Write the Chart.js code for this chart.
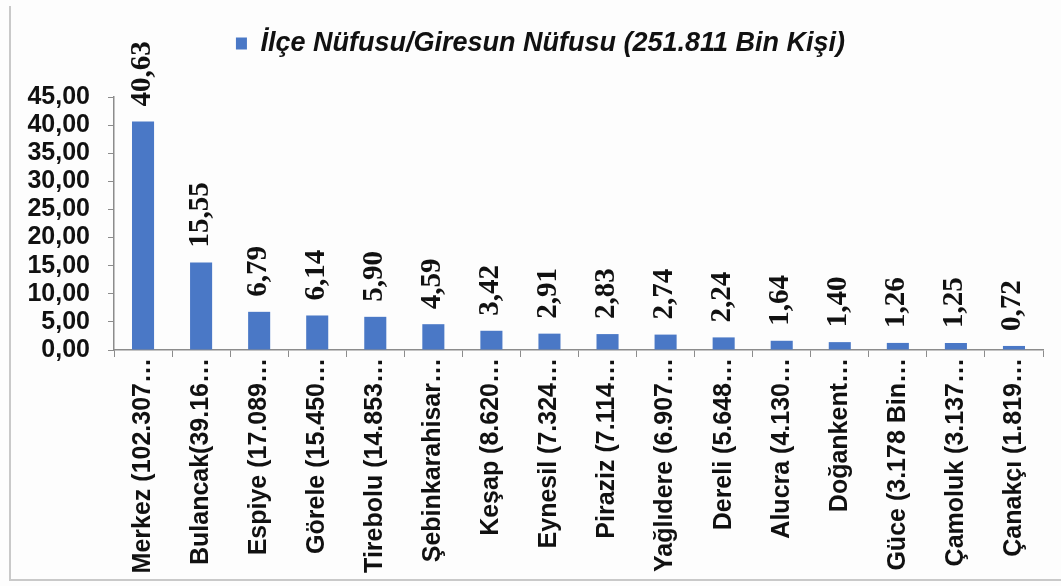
<!DOCTYPE html>
<html lang="tr">
<head>
<meta charset="utf-8">
<script src="https://cdn.jsdelivr.net/npm/chart.js@4.4.1/dist/chart.umd.min.js"></script>
<style>
	html, body { margin: 0; padding: 0; background: #fdfdfd; }
	#wrap { position: relative; width: 1061px; height: 586px; overflow: hidden; }
	#frame {
		position: absolute; left: 9px; top: 6px; width: 1060px; height: 573px;
		border-left: 2px solid #c9c9c9; border-bottom: 2px solid #c9c9c9;
	}
	canvas { position: absolute; left: 0; top: 0; }
</style>
</head>
<body>
<div id="wrap">
	<div id="frame"></div>
	<canvas id="chart" width="1061" height="586"></canvas>
</div>
<script>
const SERIES_NAME = "İlçe Nüfusu/Giresun Nüfusu (251.811 Bin Kişi)";
const DISTRICTS = [
	"Merkez (102.307…",
	"Bulancak(39.16…",
	"Espiye (17.089…",
	"Görele (15.450…",
	"Tirebolu (14.853…",
	"Şebinkarahisar…",
	"Keşap (8.620…",
	"Eynesil (7.324…",
	"Piraziz (7.114…",
	"Yağlıdere (6.907…",
	"Dereli (5.648…",
	"Alucra (4.130…",
	"Doğankent…",
	"Güce (3.178 Bin…",
	"Çamoluk (3.137…",
	"Çanakçı (1.819…",
];
const SHARES = [40.63, 15.55, 6.79, 6.14, 5.9, 4.59, 3.42, 2.91, 2.83, 2.74, 2.24, 1.64, 1.4, 1.26, 1.25, 0.72];
const Y_MAX = 45;
const Y_STEP = 5;

const BAR_BLUE = "#4a78c6";
const AXIS_GREY = "#8c8c8c";
const SANS = "'Liberation Sans', Arial, sans-serif";
const SERIF = "'Liberation Serif', 'Times New Roman', serif";

const comma = (v) => v.toFixed(2).replace(".", ",");

// legend box is made taller so the plot starts lower, and nudged right
const legendSpacer = {
	id: "legendSpacer",
	beforeInit(chart) {
		const fit = chart.legend.fit;
		chart.legend.fit = function () {
			fit.call(this);
			this.height = 77;
		};
	},
	afterLayout(chart) {
		chart.legend.left += 19;
		chart.legend.right += 19;
	},
};

// rotated value labels above each bar
const valueLabels = {
	id: "valueLabels",
	afterDatasetsDraw(chart) {
		const { ctx } = chart;
		const meta = chart.getDatasetMeta(0);
		ctx.save();
		ctx.fillStyle = "#111";
		ctx.font = `bold 29px ${SERIF}`;
		ctx.textAlign = "left";
		ctx.textBaseline = "middle";
		meta.data.forEach((bar, i) => {
			ctx.save();
			ctx.translate(bar.x - 1, bar.y - 15);
			ctx.rotate(-Math.PI / 2);
			ctx.fillText(comma(SHARES[i]), 0, 0);
			ctx.restore();
		});
		ctx.restore();
	},
};

new Chart(document.getElementById("chart"), {
	type: "bar",
	data: {
		labels: DISTRICTS,
		datasets: [
			{
				label: SERIES_NAME,
				data: SHARES,
				backgroundColor: BAR_BLUE,
				borderWidth: 0,
				barPercentage: 0.38,
				categoryPercentage: 1,
			},
		],
	},
	options: {
		responsive: false,
		animation: false,
		devicePixelRatio: 1,
		layout: { padding: { top: 20, right: 18, bottom: 0, left: 0 } },
		plugins: {
			legend: {
				position: "top",
				labels: {
					boxWidth: 11,
					boxHeight: 12,
					padding: 10,
					color: "#111",
					font: { family: SANS, size: 27, weight: "bold", style: "italic" },
				},
			},
			tooltip: { enabled: false },
		},
		scales: {
			x: {
				afterFit(scale) {
					scale.height = 236;
				},
				border: { color: AXIS_GREY, width: 1.5 },
				grid: { display: true, drawOnChartArea: false, drawTicks: true, tickLength: 7, color: AXIS_GREY },
				ticks: {
					autoSkip: false,
					minRotation: 90,
					maxRotation: 90,
					padding: 1,
					color: "#111",
					font: { family: SANS, size: 25, weight: "bold" },
				},
			},
			y: {
				min: 0,
				max: Y_MAX,
				afterFit(scale) {
					scale.width = 114;
				},
				border: { color: AXIS_GREY, width: 1.5 },
				grid: { display: true, drawOnChartArea: false, drawTicks: true, tickLength: 6, color: AXIS_GREY },
				ticks: {
					autoSkip: false,
					stepSize: Y_STEP,
					padding: 18,
					color: "#111",
					font: { family: SANS, size: 25, weight: "bold" },
					callback: (v) => comma(v),
				},
			},
		},
	},
	plugins: [legendSpacer, valueLabels],
});
</script>
</body>
</html>
